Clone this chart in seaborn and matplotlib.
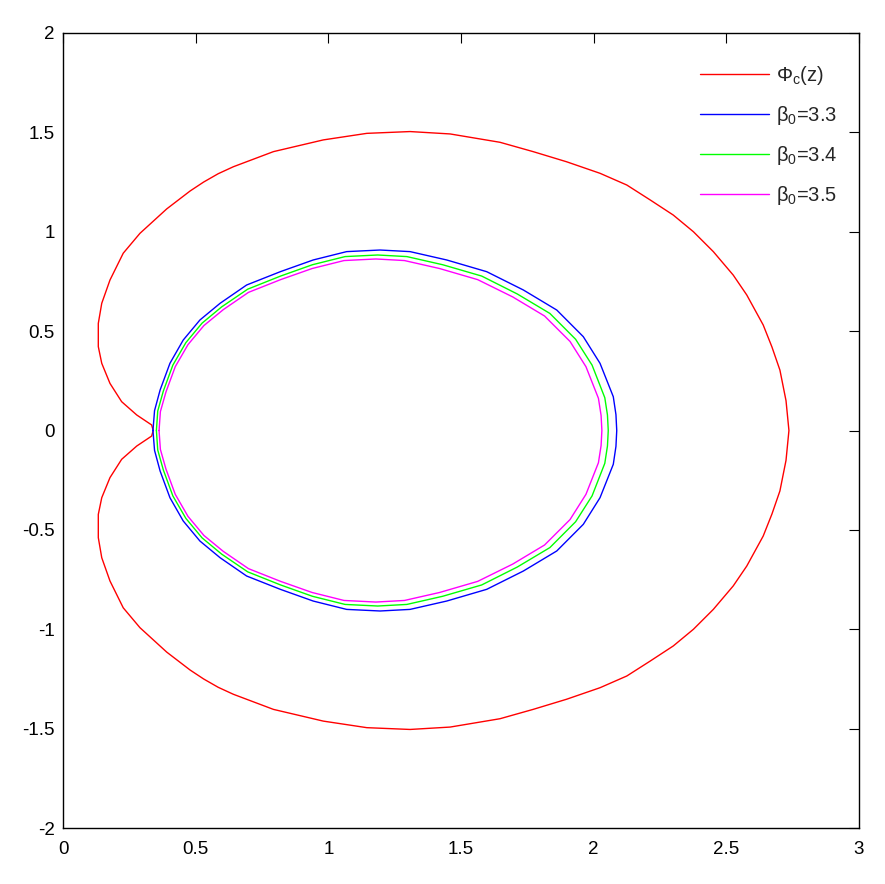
import numpy as np
import matplotlib
matplotlib.use("Agg")
import matplotlib.pyplot as plt
import seaborn as sns

# upper halves (left -> right); lower halves are mirrored
red_x = [0.340, 0.334, 0.278, 0.221, 0.177, 0.146, 0.133, 0.133, 0.146, 0.177,
         0.227, 0.290, 0.391, 0.479, 0.530, 0.585, 0.642, 0.793, 0.981, 1.145,
         1.308, 1.459, 1.647, 1.772, 1.898, 2.024, 2.125, 2.213, 2.300, 2.376,
         2.451, 2.526, 2.577, 2.639, 2.672, 2.702, 2.725, 2.736]
red_y = [0.0, 0.028, 0.078, 0.145, 0.237, 0.338, 0.422, 0.539, 0.640, 0.757,
         0.892, 0.992, 1.115, 1.205, 1.250, 1.292, 1.327, 1.403, 1.462, 1.495,
         1.504, 1.492, 1.450, 1.403, 1.352, 1.294, 1.235, 1.160, 1.084, 1.000,
         0.900, 0.782, 0.682, 0.531, 0.420, 0.304, 0.150, 0.0]

blue_x = [0.339, 0.345, 0.366, 0.403, 0.453, 0.516, 0.592, 0.692, 0.819, 0.943,
          1.069, 1.195, 1.308, 1.446, 1.597, 1.735, 1.861, 1.961, 2.024, 2.074,
          2.084, 2.087]
blue_y = [0.0, 0.100, 0.204, 0.338, 0.455, 0.556, 0.640, 0.732, 0.799, 0.858,
          0.900, 0.908, 0.900, 0.858, 0.799, 0.707, 0.606, 0.472, 0.338, 0.170,
          0.080, 0.0]

green_x = [0.352, 0.357, 0.378, 0.414, 0.463, 0.524, 0.598, 0.696, 0.820, 0.940,
           1.063, 1.186, 1.296, 1.431, 1.578, 1.712, 1.835, 1.932, 1.994, 2.042,
           2.052, 2.055]
green_y = [0.0, 0.098, 0.198, 0.329, 0.442, 0.540, 0.622, 0.711, 0.777, 0.834,
           0.875, 0.883, 0.875, 0.834, 0.777, 0.687, 0.589, 0.459, 0.329, 0.165,
           0.078, 0.0]

mag_x = [0.362, 0.367, 0.388, 0.423, 0.471, 0.531, 0.604, 0.699, 0.820, 0.939,
         1.059, 1.179, 1.287, 1.419, 1.563, 1.695, 1.815, 1.911, 1.971, 2.018,
         2.028, 2.031]
mag_y = [0.0, 0.095, 0.194, 0.321, 0.432, 0.528, 0.608, 0.695, 0.759, 0.815,
         0.855, 0.863, 0.855, 0.815, 0.759, 0.672, 0.576, 0.448, 0.321, 0.162,
         0.076, 0.0]

labels = [r'$\mathregular{\Phi_c(z)}$', r'$\mathregular{\beta_0}$=3.3',
          r'$\mathregular{\beta_0}$=3.4', r'$\mathregular{\beta_0}$=3.5']
colors = ['#ff0000', '#0000ff', '#00ff00', '#ff00ff']

x_ticks = [0, 0.5, 1, 1.5, 2, 2.5, 3]
x_ticklabels = ['0', '0.5', '1', '1.5', '2', '2.5', '3']
y_ticks = [-2, -1.5, -1, -0.5, 0, 0.5, 1, 1.5, 2]
y_ticklabels = ['-2', '-1.5', '-1', '-0.5', '0', '0.5', '1', '1.5', '2']


def closed(xs, ys):
    xs = np.asarray(xs)
    ys = np.asarray(ys)
    return (np.concatenate([xs, xs[::-1]]),
            np.concatenate([ys, -ys[::-1]]))


sns.set_style('white')
plt.rcParams['font.family'] = ['Liberation Sans', 'DejaVu Sans']
plt.rcParams['mathtext.fontset'] = 'custom'
plt.rcParams['mathtext.rm'] = 'Liberation Sans'

fig = plt.figure(figsize=(8.85, 8.84), dpi=100)
ax = fig.add_axes([0.0712, 0.0633, 0.8994, 0.8994])

curves = [(red_x, red_y), (blue_x, blue_y), (green_x, green_y), (mag_x, mag_y)]
for (cx, cy), lab, col in zip(curves, labels, colors):
    xs, ys = closed(cx, cy)
    sns.lineplot(x=xs, y=ys, sort=False, estimator=None, color=col,
                 linewidth=1.0, label=lab, ax=ax)

ax.set_xlim(0, 3)
ax.set_ylim(-2, 2)
ax.set_xticks(x_ticks)
ax.set_xticklabels(x_ticklabels)
ax.set_yticks(y_ticks)
ax.set_yticklabels(y_ticklabels)
ax.tick_params(direction='in', top=True, right=True, length=7, width=0.8,
               labelsize=13.5, colors='black', pad=6)
ax.tick_params(axis='x', pad=9)
for s in ax.spines.values():
    s.set_visible(True)
    s.set_color('black')
    s.set_linewidth(1.0)

ax.legend(loc='upper right', frameon=False, fontsize=14.5, handlelength=3.4,
          handletextpad=0.35, labelspacing=0.85, bbox_to_anchor=(0.995, 0.984))

fig.savefig('out.png', dpi=100)
